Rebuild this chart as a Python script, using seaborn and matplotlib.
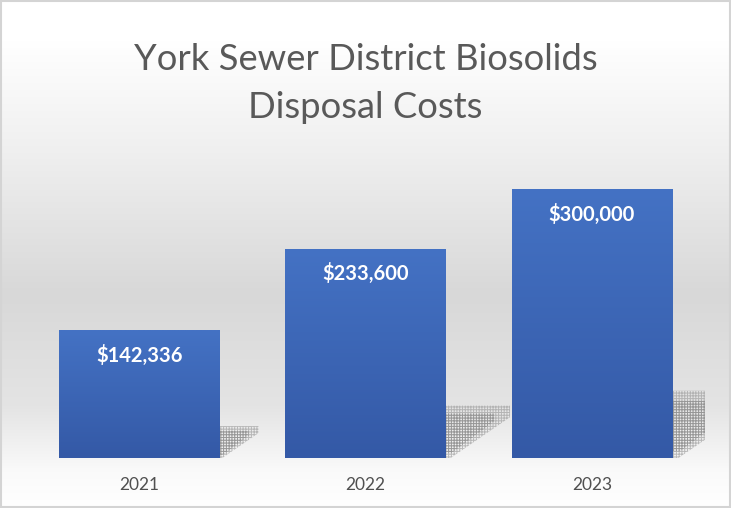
import numpy as np
import matplotlib.pyplot as plt
import seaborn as sns
import pandas as pd
from matplotlib.colors import LinearSegmentedColormap
from matplotlib.patches import Polygon, Rectangle

# --- Data ---
years = ["2021", "2022", "2023"]
costs = [142336, 233600, 300000]
labels = ["$142,336", "$233,600", "$300,000"]

df = pd.DataFrame({"year": years, "cost": costs})

sns.set_theme(style="white")
plt.rcParams['font.family'] = ['Lato', 'DejaVu Sans']
plt.rcParams['hatch.linewidth'] = 0.7

fig = plt.figure(figsize=(7.31, 5.08), dpi=100)

# --- Background gradient (white -> grey -> white) ---
bg = fig.add_axes([0, 0, 1, 1], zorder=-1)
stops = [(0.0, '#ffffff'), (0.08, '#ffffff'), (0.30, '#efefef'),
         (0.58, '#d8d8d8'), (0.80, '#e4e4e4'), (0.93, '#fafafa'), (1.0, '#ffffff')]
bg_cmap = LinearSegmentedColormap.from_list('bg', stops)
bg.imshow(np.linspace(0, 1, 256).reshape(-1, 1), cmap=bg_cmap, aspect='auto',
          extent=[0, 1, 1, 0])
bg.set_xlim(0, 1)
bg.set_ylim(1, 0)
bg.axis('off')
bg.add_patch(Rectangle((0.001, 0.002), 0.997, 0.996, fill=False, edgecolor='#d4d4d4', lw=1.5))

# --- Bars ---
ax = fig.add_axes([26 / 731, 50 / 508, 679 / 731, 308 / 508])
ax.set_facecolor('none')
sns.barplot(data=df, x="year", y="cost", color='#4472c4', saturation=1,
            width=0.707, ax=ax)

ymax = 300000 * 308 / 269
bar_cmap = LinearSegmentedColormap.from_list('bar', ['#3459a6', '#4472c4'])
grad = np.linspace(0, 1, 128).reshape(-1, 1)

for patch, val, lab in zip(ax.patches, costs, labels):
    x0, w = patch.get_x(), patch.get_width()
    h = patch.get_height()
    patch.set_edgecolor('none')
    # gradient fill
    im = ax.imshow(grad, cmap=bar_cmap, aspect='auto', origin='lower',
                   extent=[x0, x0 + w, 0, h], zorder=3)
    im.set_clip_path(patch)
    # stippled shadow behind the bar: a lighter outer part and a denser core
    xr = x0 + w
    sw = 0.366 * val / 300000
    sh = 0.25 * val
    outer = Polygon([(xr, 0), (xr, sh), (xr + sw, sh), (xr + sw, 0.78 * sh),
                     (xr + 0.08 * sw, 0)], closed=True, facecolor='none',
                    edgecolor='#a0a0a0', hatch='++++++', lw=0, alpha=0.7, zorder=1)
    inner = Polygon([(xr, 0.1 * sh), (xr, 0.85 * sh), (xr + 0.75 * sw, 0.85 * sh),
                     (xr + 0.75 * sw, 0.7 * sh), (xr + 0.1 * sw, 0.1 * sh)], closed=True,
                    facecolor='none', edgecolor='#7a7a7a', hatch='++++++', lw=0,
                    alpha=0.5, zorder=1)
    ax.add_patch(outer)
    ax.add_patch(inner)
    # value label
    ax.text(x0 + w / 2, h - 25 * 300000 / 269, lab, ha='center', va='center',
            color='white', fontsize=14.5, fontweight='bold', zorder=5)

ax.set_xlim(-0.5, 2.5)
ax.set_ylim(0, ymax)
ax.set_xlabel("")
ax.set_ylabel("")
ax.set_yticks([])
ax.tick_params(axis='x', length=0, pad=14, labelsize=12.5, labelcolor='#505050')
sns.despine(ax=ax, left=True, bottom=True)

fig.text(0.5, 1 - 59 / 508, "York Sewer District Biosolids", ha='center', va='center',
         fontsize=26.2, color='#595959')
fig.text(0.5, 1 - 107 / 508, "Disposal Costs", ha='center', va='center',
         fontsize=26.2, color='#595959')

fig.savefig('out.png', dpi=100)
